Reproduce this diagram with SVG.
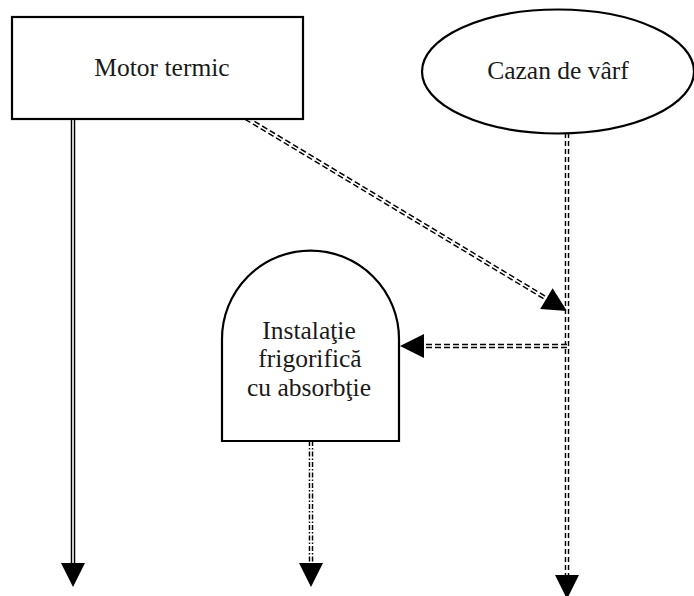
<svg xmlns="http://www.w3.org/2000/svg" width="694" height="596" viewBox="0 0 694 596">
<style>
.node{fill:#fff;stroke:#000;stroke-width:2.2}
.lbl{font-family:"Liberation Serif","Times New Roman",serif;font-size:25.5px;fill:#1a1a1a;text-anchor:middle}
.outer{fill:none;stroke:#000;stroke-width:4.5}
.inner{fill:none;stroke:#fff;stroke-width:1.6}
.dash{stroke-dasharray:6 3}
.dashv{stroke-dasharray:5 3}
.dashdot{stroke-dasharray:5 2 1.5 2}
</style>
<defs>
<marker id="ah" markerUnits="userSpaceOnUse" markerWidth="24" markerHeight="24" refX="0" refY="12" orient="auto" overflow="visible">
<path d="M0,0 L24,12 L0,24 Z" fill="#000"/>
</marker>
</defs>
<rect width="694" height="596" fill="#fff"/>
<g id="connectors">
<g id="c-motor-out">
<path class="outer" d="M73,119 V563" marker-end="url(#ah)"/>
<path class="inner" d="M73,119 V563"/>
</g>
<g id="c-motor-cazan">
<path class="outer dash" d="M246,118 L546.4,298.6" marker-end="url(#ah)"/>
<path class="inner" d="M246,118 L546.4,298.6"/>
</g>
<g id="c-cazan-out">
<path class="outer dashv" d="M567,133 V575" marker-end="url(#ah)"/>
<path class="inner" d="M567,133 V575"/>
</g>
<g id="c-to-inst">
<path class="outer dash" d="M567,346 H424" marker-end="url(#ah)"/>
<path class="inner" d="M567,346 H424"/>
</g>
<g id="c-inst-out">
<path class="outer dashdot" d="M311,441 V563" marker-end="url(#ah)"/>
<path class="inner" d="M311,441 V563"/>
</g>
</g>
<g id="motor">
<rect class="node" x="12" y="17" width="291" height="102" stroke-width="2.6"/>
<text class="lbl" x="162" y="76">Motor termic</text>
</g>
<g id="cazan">
<ellipse class="node" cx="558" cy="71.5" rx="136" ry="62" stroke-width="1.8"/>
<text class="lbl" x="558" y="79">Cazan de vârf</text>
</g>
<g id="instalatie">
<path class="node" d="M222,441 V339 A88.5,88.5 0 0 1 399,339 V441 Z"/>
<text class="lbl" x="309" y="339">Instalaţie</text>
<text class="lbl" x="310" y="367">frigorifică</text>
<text class="lbl" x="309" y="396">cu absorbţie</text>
</g>
</svg>
